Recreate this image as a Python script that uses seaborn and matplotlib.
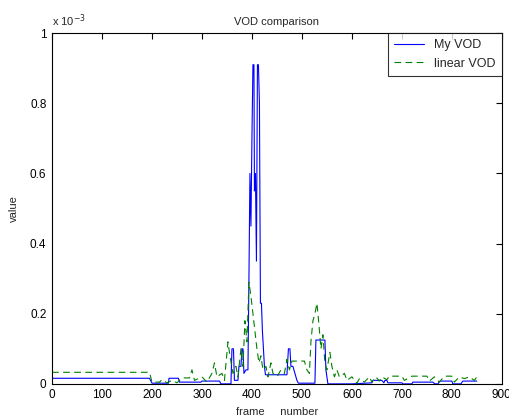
import numpy as np
import pandas as pd
import seaborn as sns
import matplotlib.pyplot as plt

# ---- Data (values in units of 1e-3) ----
my_frames = [0, 195, 200, 233, 234, 253, 255, 298, 300, 335, 338, 358, 360, 363, 365, 372,
             374, 378, 380, 382, 384, 388, 392, 394, 396, 398, 400, 402, 404, 405, 407, 409,
             411, 413, 415, 417, 419, 421, 423, 425, 427, 470, 473, 476, 478, 482, 490, 493,
             526, 528, 546, 548, 552, 600, 640, 642, 660, 664, 666, 670, 672, 700, 702, 720,
             722, 762, 766, 772, 776, 800, 802, 818, 822, 850]
my_vod = [0.016, 0.016, 0.002, 0.002, 0.016, 0.016, 0.005, 0.005, 0.008, 0.008, 0.0, 0.0,
          0.1, 0.1, 0.01, 0.01, 0.05, 0.05, 0.1, 0.1, 0.03, 0.04, 0.04, 0.3, 0.6, 0.45, 0.7,
          0.91, 0.91, 0.55, 0.6, 0.35, 0.91, 0.91, 0.8, 0.23, 0.23, 0.15, 0.1, 0.05, 0.026,
          0.026, 0.1, 0.1, 0.05, 0.05, 0.01, 0.002, 0.002, 0.125, 0.125, 0.04, 0.0, 0.0,
          0.003, 0.01, 0.01, 0.003, 0.01, 0.01, 0.003, 0.003, 0.0, 0.0, 0.005, 0.005, 0.0,
          0.0, 0.008, 0.008, 0.0, 0.0, 0.008, 0.008]

lin_frames = [0, 195, 200, 215, 220, 230, 240, 250, 260, 275, 280, 285, 300, 310, 320, 325,
              330, 340, 345, 352, 356, 362, 368, 372, 378, 382, 386, 390, 394, 398, 402, 406,
              410, 414, 418, 422, 428, 432, 438, 442, 450, 458, 465, 470, 475, 480, 505, 510,
              515, 518, 522, 526, 530, 534, 538, 542, 546, 550, 556, 560, 565, 570, 575, 585,
              590, 600, 610, 615, 625, 635, 640, 648, 655, 660, 670, 675, 700, 705, 720, 750,
              755, 765, 775, 785, 800, 805, 815, 825, 835, 845, 850]
lin_vod = [0.033, 0.033, 0.005, 0.005, 0.012, 0.003, 0.01, 0.003, 0.017, 0.017, 0.04, 0.01,
           0.02, 0.005, 0.03, 0.06, 0.02, 0.03, 0.01, 0.12, 0.08, 0.03, 0.05, 0.02, 0.1, 0.05,
           0.18, 0.12, 0.29, 0.25, 0.2, 0.15, 0.1, 0.06, 0.08, 0.04, 0.05, 0.02, 0.06, 0.03,
           0.02, 0.04, 0.03, 0.07, 0.04, 0.065, 0.065, 0.04, 0.03, 0.12, 0.18, 0.2, 0.23, 0.17,
           0.1, 0.14, 0.06, 0.04, 0.09, 0.05, 0.02, 0.04, 0.02, 0.03, 0.01, 0.02, 0.002, 0.015,
           0.005, 0.02, 0.005, 0.02, 0.008, 0.02, 0.012, 0.022, 0.022, 0.01, 0.022, 0.022,
           0.008, 0.02, 0.005, 0.022, 0.022, 0.005, 0.02, 0.015, 0.02, 0.01, 0.02]

x_ticks = [0, 100, 200, 300, 400, 500, 600, 700, 800, 900]
y_ticks = [0, 0.2, 0.4, 0.6, 0.8, 1]
y_tick_labels = ['0', '0.2', '0.4', '0.6', '0.8', '1']

my_df = pd.DataFrame({'frame': my_frames, 'value': my_vod})
lin_df = pd.DataFrame({'frame': lin_frames, 'value': lin_vod})

sns.set_style('white')
plt.rcParams['font.family'] = ['Liberation Sans', 'DejaVu Sans']
plt.rcParams['font.size'] = 8

fig = plt.figure(figsize=(5.1, 4.2), dpi=100)
ax = fig.add_axes([0.102, 0.086, 0.882, 0.835])

sns.lineplot(data=my_df, x='frame', y='value', color='#0000ff', lw=0.8,
             estimator=None, sort=False, label='My VOD', ax=ax)
sns.lineplot(data=lin_df, x='frame', y='value', color='#008000', lw=0.8,
             estimator=None, sort=False, label='linear VOD', ax=ax, linestyle=(0, (6, 4)))

# Axes styling (matlab-like)
ax.set_xlim(0, 900)
ax.set_ylim(0, 1)
ax.set_xticks(x_ticks)
ax.set_yticks(y_ticks)
ax.set_yticklabels(y_tick_labels)
ax.tick_params(direction='in', top=True, right=True, length=4, width=0.8,
               labelsize=8.5, colors='black', pad=4)
for s in ax.spines.values():
    s.set_color('black')
    s.set_linewidth(0.8)

ax.set_title('VOD comparison', fontsize=8, pad=6)
ax.set_xlabel('frame     number', fontsize=8, labelpad=4)
ax.set_ylabel('value', fontsize=8, labelpad=8)
ax.text(0.0, 1.012, 'x 10$^{-3}$', transform=ax.transAxes, fontsize=8,
        ha='left', va='bottom')

leg = ax.legend(loc='upper right', fontsize=9, frameon=True, fancybox=False,
                borderaxespad=0.0, handlelength=2.4, borderpad=0.5)
leg.get_frame().set_edgecolor('black')
leg.get_frame().set_linewidth(0.8)

fig.savefig('out.png', dpi=100, facecolor='white')
